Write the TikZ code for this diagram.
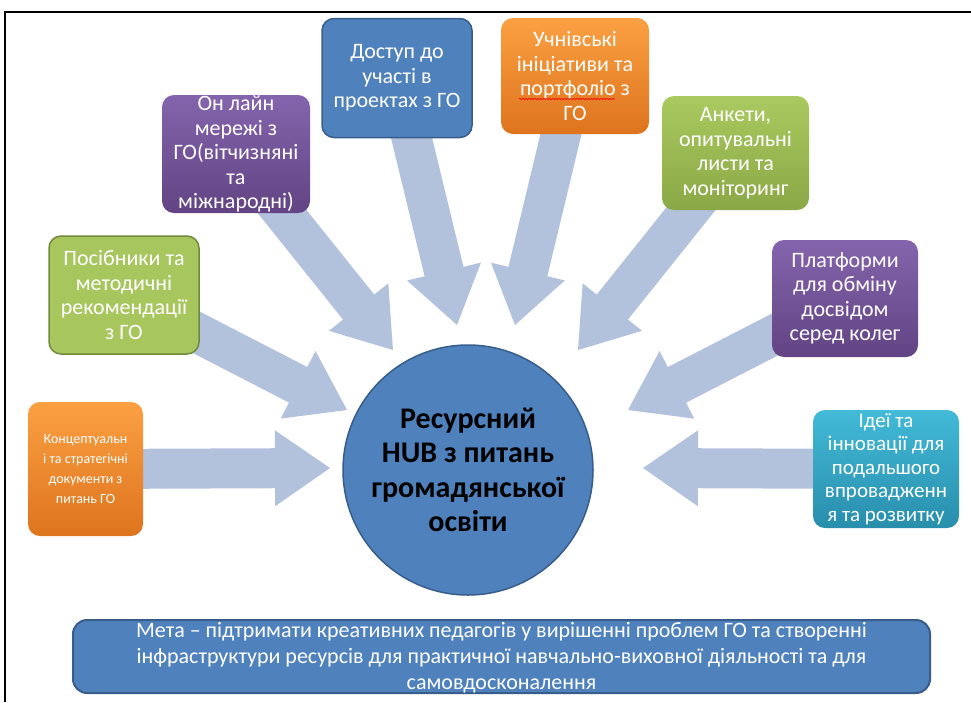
\documentclass[tikz,border=0pt]{standalone}
\usepackage{fontspec}
\setmainfont{Carlito}
\usepackage{xcolor}
\usepackage{tikz}
\usetikzlibrary{shapes,arrows,positioning,calc,backgrounds,decorations.pathmorphing}

\definecolor{hubblue}{RGB}{79,129,189}
\definecolor{hubedge}{RGB}{56,93,138}
\definecolor{flowblue}{RGB}{178,194,221}
\definecolor{orangetop}{RGB}{251,160,66}
\definecolor{orangebot}{RGB}{222,116,30}
\definecolor{greentop}{RGB}{170,201,95}
\definecolor{greenbot}{RGB}{138,168,70}
\definecolor{greenedge}{RGB}{113,137,61}
\definecolor{purpletop}{RGB}{132,100,172}
\definecolor{purplebot}{RGB}{98,68,132}
\definecolor{tealtop}{RGB}{66,186,216}
\definecolor{tealbot}{RGB}{40,142,172}

% block arrow from a box to a tip coordinate
\newcommand{\hubarrow}[2]{%
  \coordinate (h) at ($(#2)!55pt!(#1)$);
  \fill[flowblue] ($(#1)!20pt!90:(#2)$) -- ($(h)!20pt!90:(#2)$) -- ($(h)!38pt!90:(#2)$)
    -- (#2) -- ($(h)!38pt!-90:(#2)$) -- ($(h)!20pt!-90:(#2)$) -- ($(#1)!20pt!-90:(#2)$) -- cycle;
}

\begin{document}
\begin{tikzpicture}[x=1pt, y=-1pt,
            box/.style={rectangle, rounded corners=12pt, text=white, align=center, inner sep=0pt,
                        font=\fontsize{22}{24.5}\selectfont},
            orangebox/.style={box, top color=orangetop, bottom color=orangebot},
            greenbox/.style={box, top color=greentop, bottom color=greenbot},
            purplebox/.style={box, top color=purpletop, bottom color=purplebot},
            tealbox/.style={box, top color=tealtop, bottom color=tealbot},
            hub/.style={circle, fill=hubblue, draw=hubedge, line width=1.5pt, minimum size=250pt,
                        align=center, font=\fontsize{30}{34.5}\selectfont\bfseries}]
            \useasboundingbox (0,0) rectangle (971,702);

            % Frame
            \draw[line width=2.5pt] (5,702) -- (5,12) -- (971,12);

            % Nodes
            \node[hub] (hub) at (468,470) {Ресурсний\\HUB з питань\\громадянської\\освіти};
            \node[orangebox, minimum width=115pt, minimum height=134pt, font=\fontsize{14}{20}\selectfont] (concept) at (85.5,469)
                {Концептуальн\\і та стратегічні\\документи з\\питань ГО};
            \node[box, fill=greentop!90!greenbot, draw=greenedge, line width=1.5pt, minimum width=150pt, minimum height=118pt] (manuals) at (124,295)
                {Посібники та\\методичні\\рекомендації\\з ГО};
            \node[purplebox, minimum width=148pt, minimum height=118pt] (networks) at (236,154)
                {Он лайн\\мережі з\\ГО(вітчизняні\\та\\міжнародні)};
            \node[box, fill=hubblue, draw=hubedge, line width=1.5pt, minimum width=150pt, minimum height=119pt] (access) at (397,78)
                {Доступ до\\участі в\\проектах з ГО};
            \node[orangebox, minimum width=148pt, minimum height=116pt] (pupils) at (575,76)
                {Учнівські\\ініціативи та\\портфоліо з\\ГО};
            \node[greenbox, minimum width=147pt, minimum height=114pt] (surveys) at (735.5,153)
                {Анкети,\\опитувальні\\листи та\\моніторинг};
            \node[purplebox, minimum width=146pt, minimum height=117pt] (platforms) at (845,298.5)
                {Платформи\\для обміну\\досвідом\\серед колег};
            \node[tealbox, minimum width=146pt, minimum height=118pt, font=\fontsize{21}{23.5}\selectfont] (ideas) at (886,469)
                {Ідеї та\\інновації для\\подальшого\\впровадженн\\я та розвитку};
            \node[box, rounded corners=14pt, fill=hubblue, draw=hubedge, line width=2pt, minimum width=857pt, minimum height=73pt] (goal) at (501.5,656.5) {};
            \node[anchor=north, text=white, align=center, font=\fontsize{22}{26}\selectfont] (goaltext) at ($(goal.north)+(0,0)$)
                {Мета -- підтримати креативних педагогів у вирішенні проблем ГО та створенні\\
                 інфраструктури ресурсів для практичної навчально-виховної діяльності та для\\
                 самовдосконалення};

            % spell-check mark
            \draw[red, line width=0.6pt, decorate, decoration={snake, amplitude=0.8pt, segment length=3pt}]
                ($(pupils.center)+(-56,23)$) -- ($(pupils.center)+(40,23)$);

            % Arrow tips
            \coordinate (tconcept) at (330,468);
            \coordinate (tmanuals) at (347,410);
            \coordinate (tnetworks) at (393,350);
            \coordinate (taccess) at (457,325);
            \coordinate (tpupils) at (515,325);
            \coordinate (tsurveys) at (578,350);
            \coordinate (tplatforms) at (628,410);
            \coordinate (tideas) at (643,468);

            % Arrows
            \begin{scope}[on background layer]
                \hubarrow{concept}{tconcept}
                \hubarrow{manuals}{tmanuals}
                \hubarrow{networks}{tnetworks}
                \hubarrow{access}{taccess}
                \hubarrow{pupils}{tpupils}
                \hubarrow{surveys}{tsurveys}
                \hubarrow{platforms}{tplatforms}
                \hubarrow{ideas}{tideas}
            \end{scope}
        \end{tikzpicture}
\end{document}
